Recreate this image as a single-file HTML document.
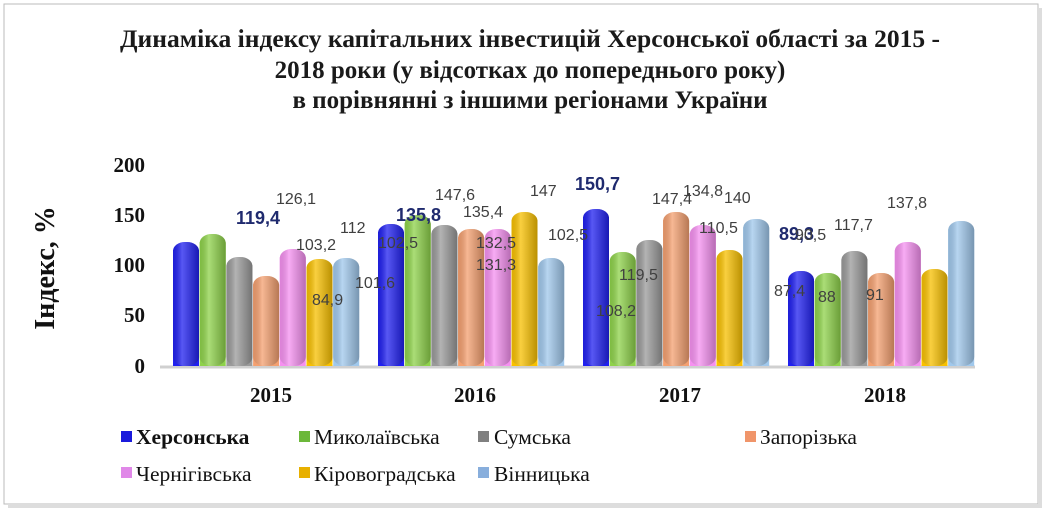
<!DOCTYPE html>
<html><head><meta charset="utf-8"><style>
body{margin:0;background:#fff;width:1048px;height:512px;overflow:hidden}
svg{display:block}
.t{font-family:"Liberation Serif",serif;font-weight:bold;font-size:25px;fill:#1a1a1a}
.ax{font-family:"Liberation Serif",serif;font-weight:bold;font-size:21px;fill:#111}
.lb{font-family:"Liberation Sans",sans-serif;font-size:16px;fill:#404040}
.lbb{font-family:"Liberation Sans",sans-serif;font-size:18px;font-weight:bold;fill:#1f2a6e}
.lg{font-family:"Liberation Serif",serif;font-size:21.5px;fill:#111}
</style></head><body>
<svg width="1048" height="512" viewBox="0 0 1048 512">
<defs>
<linearGradient id="sh" x1="0" x2="1" y1="0" y2="0">
<stop offset="0" stop-color="#000" stop-opacity="0.1"/>
<stop offset="0.35" stop-color="#fff" stop-opacity="0.25"/>
<stop offset="1" stop-color="#000" stop-opacity="0.25"/>
</linearGradient>
</defs>
<rect x="4" y="4" width="1034" height="500" fill="#fff" stroke="#bbb" stroke-width="1"/>
<rect x="1038" y="8" width="4" height="500" fill="#ddd"/>
<rect x="8" y="504" width="1034" height="4" fill="#ddd"/>
<text class="t" x="530" y="47" text-anchor="middle" textLength="820" lengthAdjust="spacingAndGlyphs">Динаміка індексу капітальних інвестицій Херсонської області за 2015 -</text>
<text class="t" x="530" y="78" text-anchor="middle">2018 роки (у відсотках до попереднього року)</text>
<text class="t" x="530" y="108" text-anchor="middle">в порівнянні з іншими регіонами України</text>
<text x="54" y="268" transform="rotate(-90 54 268)" text-anchor="middle" font-family="Liberation Serif,serif" font-weight="bold" font-size="28" fill="#111">Індекс, %</text>
<g class="ax" text-anchor="end">
<text x="145" y="172">200</text><text x="145" y="222">150</text><text x="145" y="272">100</text><text x="145" y="322">50</text><text x="145" y="373">0</text>
</g>
<line x1="160" y1="367" x2="975" y2="367" stroke="#d0d0d0" stroke-width="3"/>
<g id="bars"></g>
<g class="ax" text-anchor="middle">
<text x="271" y="402">2015</text><text x="475" y="402">2016</text><text x="680" y="402">2017</text><text x="885" y="402">2018</text>
</g>
<g class="lb">
<text class="lbb" x="236" y="224">119,4</text>
<text x="276" y="204">126,1</text>
<text x="296" y="250">103,2</text>
<text x="340" y="233">112</text>
<text x="312" y="305">84,9</text>
<text x="355" y="288">101,6</text>
<text class="lbb" x="396" y="221">135,8</text>
<text x="378" y="248">102,5</text>
<text x="435" y="200">147,6</text>
<text x="463" y="217">135,4</text>
<text x="476" y="248">132,5</text>
<text x="476" y="270">131,3</text>
<text x="530" y="196">147</text>
<text x="548" y="240">102,5</text>
<text class="lbb" x="575" y="190">150,7</text>
<text x="596" y="316">108,2</text>
<text x="619" y="280">119,5</text>
<text x="652" y="204">147,4</text>
<text x="683" y="196">134,8</text>
<text x="724" y="203">140</text>
<text x="699" y="233">110,5</text>
<text class="lbb" x="779" y="240">89,3</text>
<text x="795" y="240">90,5</text>
<text x="834" y="230">117,7</text>
<text x="887" y="208">137,8</text>
<text x="774" y="296">87,4</text>
<text x="818" y="302">88</text>
<text x="866" y="300">91</text>
</g>
<g class="lg">
<rect x="121" y="431" width="11" height="11" fill="#1a1adc"/><text x="136" y="444" font-weight="bold">Херсонська</text>
<rect x="299" y="431" width="11" height="11" fill="#6cb83a"/><text x="314" y="444">Миколаївська</text>
<rect x="478" y="431" width="11" height="11" fill="#808080"/><text x="494" y="444">Сумська</text>
<rect x="745" y="431" width="11" height="11" fill="#f0956a"/><text x="760" y="444">Запорізька</text>
<rect x="121" y="467" width="11" height="11" fill="#e088e8"/><text x="136" y="481">Чернігівська</text>
<rect x="299" y="467" width="11" height="11" fill="#e8b000"/><text x="314" y="481">Кіровоградська</text>
<rect x="478" y="467" width="11" height="11" fill="#88aedc"/><text x="494" y="481">Вінницька</text>
</g>
</svg>
<script>
var cols=["#2020f0","#8ed24a","#9a9a9a","#f4a070","#f590f0","#f8c000","#a0c8ec"];
var starts=[173,378,583,788];
var tops=[[242,234,257,276,249,259,258],[224,215,225,229,229,212,258],[209,252,240,212,225,250,219],[271,273,251,273,242,269,221]];
var g=document.getElementById('bars'),h="";
for(var i=0;i<4;i++)for(var j=0;j<7;j++){var x=starts[i]+j*26.7,t=tops[i][j];
h+='<rect x="'+x+'" y="'+t+'" width="26" height="'+(366-t)+'" rx="12" ry="9" fill="'+cols[j]+'"/>';
h+='<rect x="'+x+'" y="'+(t+8)+'" width="26" height="'+(358-t)+'" fill="'+cols[j]+'"/>';
h+='<rect x="'+x+'" y="'+t+'" width="26" height="'+(366-t)+'" rx="12" ry="9" fill="url(#sh)"/>';}
g.innerHTML=h;
</script>
</body></html>
